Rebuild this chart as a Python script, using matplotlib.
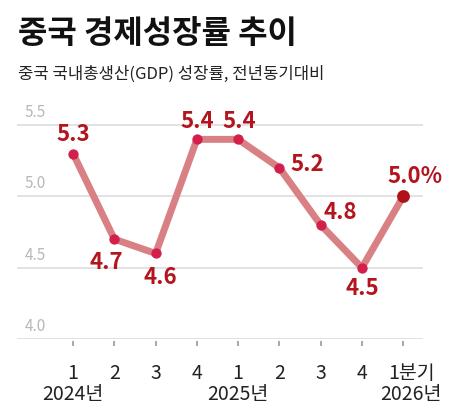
import matplotlib
matplotlib.use("Agg")
import matplotlib.pyplot as plt

plt.rcParams['font.family'] = ['Noto Sans CJK KR', 'DejaVu Sans']

# data
quarters = ['1', '2', '3', '4', '1', '2', '3', '4', '1분기']
years = ['2024년', '2025년', '2026년']
year_pos = [0, 4, 8.18]
growth = [5.3, 4.7, 4.6, 5.4, 5.4, 5.2, 4.8, 4.5, 5.0]
value_labels = ['5.3', '4.7', '4.6', '5.4', '5.4', '5.2', '4.8', '4.5', '5.0%']
# label offsets in px (dx, dy) relative to each point
label_offsets = [(0, 19), (-8, -23), (5, -24), (0, 18), (1, 18), (28, 3), (20, 12), (0, -21), (12, 20)]
yticks = [4.0, 4.5, 5.0, 5.5]

line_color = '#d98084'
dot_color = '#d21f4c'
last_dot = '#b01018'
label_color = '#b3141e'
grid_color = '#e2e2e2'

W, H = 471, 419
fig = plt.figure(figsize=(W / 100, H / 100), dpi=100)
ax = fig.add_axes([17 / W, (H - 339) / H, (423 - 17) / W, (339 - 108) / H])
ax.set_xlim(-1.36, 8.48)
ax.set_ylim(4.0, 5.62)
ax.axis('off')

x = list(range(len(growth)))

for v in yticks:
    ax.axhline(v, color=grid_color, lw=1.4, zorder=1)
    ax.annotate(f'{v:.1f}', (-1.36, v), xytext=(8, 4), textcoords='offset pixels',
                ha='left', va='bottom', fontsize=11, color='#b8b8b8')

ax.plot(x, growth, color=line_color, lw=5, solid_joinstyle='round',
        solid_capstyle='round', zorder=2)
ax.scatter(x[:-1], growth[:-1], s=55, color=dot_color, zorder=3, linewidths=0)
ax.scatter(x[-1:], growth[-1:], s=85, color=last_dot, zorder=3, linewidths=0)

for xi, yi, lab, (dx, dy) in zip(x, growth, value_labels, label_offsets):
    ax.annotate(lab, (xi, yi), xytext=(dx, dy), textcoords='offset pixels',
                ha='center', va='center', fontsize=16, fontweight='bold',
                color=label_color, zorder=4)

# tick marks with a small gap under the axis
ax.vlines(x, 3.954, 3.986, color='#9a9a9a', lw=1.2, clip_on=False)

for xi, q in zip(x, quarters):
    ax.annotate(q, (xi, 4.0), xytext=(8 if q == '1분기' else 0, -34),
                textcoords='offset pixels', ha='center', va='center',
                fontsize=14, color='#222222', annotation_clip=False)
for xp, yr in zip(year_pos, years):
    ax.annotate(yr, (xp, 4.0), xytext=(0, -55), textcoords='offset pixels',
                ha='center', va='center', fontsize=14, color='#222222',
                annotation_clip=False)

fig.text(18 / W, 1 - 34 / H, '중국 경제성장률 추이', fontsize=23, fontweight='bold',
         color='#111111', ha='left', va='center')
fig.text(18 / W, 1 - 74 / H, '중국 국내총생산(GDP) 성장률, 전년동기대비', fontsize=12,
         color='#222222', ha='left', va='center')

fig.savefig('out.png', dpi=100)
